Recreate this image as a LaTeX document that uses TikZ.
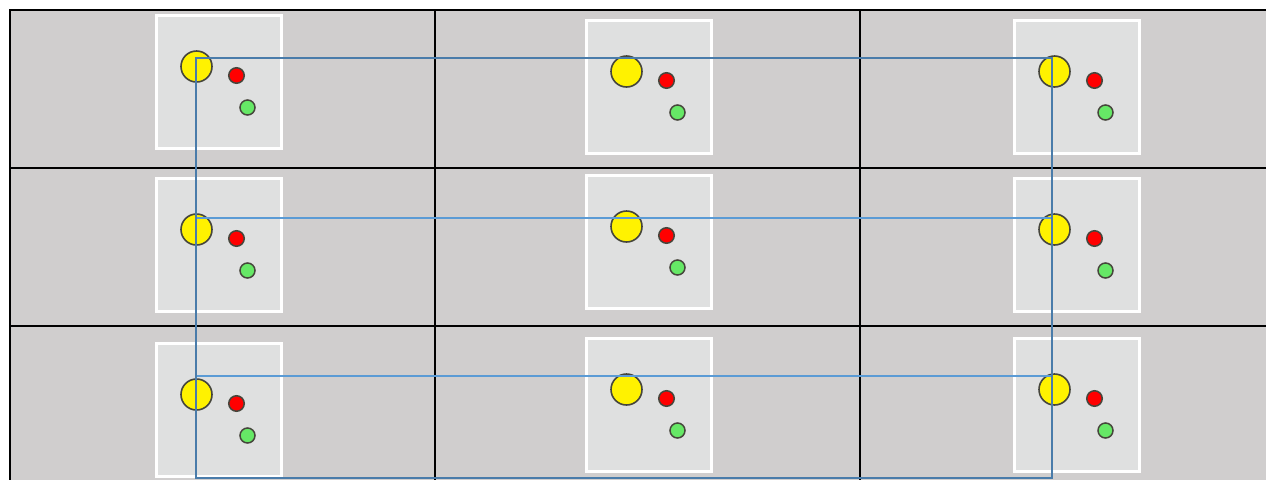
\documentclass[tikz,border=0pt]{standalone}
\definecolor{cellgray}{RGB}{208,206,206}
\definecolor{panelgray}{RGB}{223,224,224}
\definecolor{linkdark}{RGB}{74,124,170}
\definecolor{linklight}{RGB}{91,155,213}
\definecolor{dotgreen}{RGB}{102,232,102}
\definecolor{ringgray}{RGB}{70,70,60}
\begin{document}
\begin{tikzpicture}[x=1pt, y=-1pt,
    panel/.style={draw=white, line width=2.6pt, fill=panelgray},
    bigdot/.style={circle, draw=ringgray, line width=1.6pt, fill=yellow, minimum size=31pt, inner sep=0pt},
    reddot/.style={circle, draw=ringgray, line width=1.5pt, fill=red, minimum size=15.5pt, inner sep=0pt},
    greendot/.style={circle, draw=ringgray, line width=1.5pt, fill=dotgreen, minimum size=15pt, inner sep=0pt},
    gridline/.style={black, line width=2pt},
    outerlink/.style={linkdark, line width=2pt},
    innerlink/.style={linklight, line width=2pt}]
    \useasboundingbox (0,0) rectangle (1266,480);

    % Cells and grid
    \fill[cellgray] (10,10) rectangle (1266,480);
    \foreach \gy in {10,168,326}
        \draw[gridline] (9,\gy) -- (1266,\gy);
    \foreach \gx in {10,435,860}
        \draw[gridline] (\gx,9) -- (\gx,480);

    % Panels with their three dots
    \foreach \px/\py [count=\n] in {155/14, 585/19, 1013/19, 155/177, 585/174, 1013/177, 155/342, 585/337, 1013/337} {
        \draw[panel] (\px+1.3,\py+1.3) rectangle (\px+126.7,\py+134.7);
        \node[bigdot] (sun\n) at (\px+41.5,\py+52.5) {};
        \node[reddot] (red\n) at (\px+81.5,\py+61.5) {};
        \node[greendot] (green\n) at (\px+92.5,\py+93.5) {};
    }

    % Links between the rows
    \coordinate (tl) at (196,58);
    \coordinate (tr) at (1052,58);
    \coordinate (bl) at (196,478);
    \coordinate (br) at (1052,478);
    \coordinate (ml) at (196,218);
    \coordinate (mr) at (1052,218);
    \coordinate (ll) at (196,376);
    \coordinate (lr) at (1052,376);
    \draw[innerlink] (ml) -- (mr);
    \draw[innerlink] (ll) -- (lr);
    \draw[outerlink] (tl) -- (tr) -- (br) -- (bl) -- cycle;
\end{tikzpicture}
\end{document}
